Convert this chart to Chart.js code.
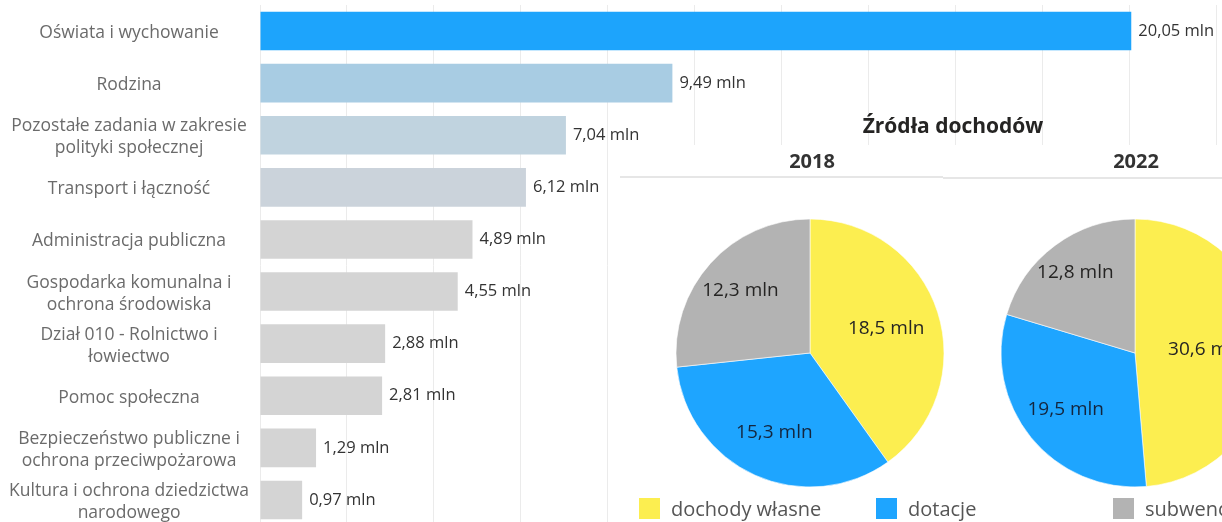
<!DOCTYPE html>
<html><head><meta charset="utf-8">
<script src="https://cdn.jsdelivr.net/npm/chart.js@4.4.1/dist/chart.umd.min.js"></script>
<style>
html,body{margin:0;padding:0;background:#fff;overflow:hidden;}
#wrap{position:relative;width:1222px;height:522px;overflow:hidden;font-family:"Open Sans",sans-serif;}
#barBox{position:absolute;left:0;top:0;width:1222px;height:540px;}
#title{position:absolute;left:753px;width:400px;top:111px;text-align:center;font-weight:700;font-size:21px;line-height:28px;color:#252423;}
#panel{position:absolute;left:617px;top:145px;width:640px;height:400px;background:#fff;}
.yr{position:absolute;top:2px;width:200px;text-align:center;font-weight:700;font-size:20px;line-height:28px;color:#333;}
.ln{position:absolute;height:2px;background:#e6e6e6;}
.pie{position:absolute;top:58px;width:300px;height:300px;}
#legend{position:absolute;left:22px;top:353px;display:flex;white-space:nowrap;}
.li{display:flex;align-items:center;width:237px;font-size:20px;line-height:21px;color:#555;}
.sq{width:21px;height:21px;margin-right:11px;flex:none;}
</style></head>
<body>
<div id="wrap">
  <div id="barBox"><canvas id="bar"></canvas></div>
  <div id="title"></div>
  <div id="panel">
    <div class="yr" id="y0" style="left:95px"></div>
    <div class="ln" style="left:3px;top:31px;width:323px"></div>
    <div class="yr" id="y1" style="left:419px"></div>
    <div class="ln" style="left:326px;top:32px;width:320px"></div>
    <div class="pie" style="left:43px"><canvas id="pie0"></canvas></div>
    <div class="pie" style="left:368px"><canvas id="pie1"></canvas></div>
    <div id="legend"></div>
  </div>
</div>
<script>
// ---- data ----
const categories = [
  "Oświata i wychowanie",
  "Rodzina",
  ["Pozostałe zadania w zakresie", "polityki społecznej"],
  "Transport i łączność",
  "Administracja publiczna",
  ["Gospodarka komunalna i", "ochrona środowiska"],
  ["Dział 010 - Rolnictwo i", "łowiectwo"],
  "Pomoc społeczna",
  ["Bezpieczeństwo publiczne i", "ochrona przeciwpożarowa"],
  ["Kultura i ochrona dziedzictwa", "narodowego"]
];
const expenses = [20.05, 9.49, 7.04, 6.12, 4.89, 4.55, 2.88, 2.81, 1.29, 0.97];
const barColors = ["#1DA4FC", "#A8CCE3", "#C0D3DF", "#CBD3DB", "#D4D4D4", "#D4D4D4", "#D4D4D4", "#D4D4D4", "#D4D4D4", "#D4D4D4"];
const pieTitle = "Źródła dochodów";
const years = ["2018", "2022"];
const sourceLabels = ["dochody własne", "dotacje", "subwencje"];
const income2018 = [18.5, 15.3, 12.3];
const income2022 = [30.6, 19.5, 12.8];
const sourceColors = ["#FCEE50", "#1EA5FF", "#B3B3B3"];
const unit = "mln";

// ---- text bits ----
document.getElementById('title').textContent = pieTitle;
document.getElementById('y0').textContent = years[0];
document.getElementById('y1').textContent = years[1];
const lg = document.getElementById('legend');
sourceLabels.forEach((l, i) => {
  const d = document.createElement('div'); d.className = 'li';
  const s = document.createElement('span'); s.className = 'sq'; s.style.background = sourceColors[i];
  const t = document.createElement('span'); t.textContent = l;
  d.appendChild(s); d.appendChild(t); lg.appendChild(d);
});

const FONT = '"Open Sans", sans-serif';
Chart.defaults.font.family = FONT;
Chart.defaults.animation = false;

const fmt = (v, d) => v.toFixed(d).replace('.', ',') + ' ' + unit;

const barLabels = {
  id: 'barLabels',
  afterDatasetsDraw(chart) {
    const ctx = chart.ctx;
    const meta = chart.getDatasetMeta(0);
    ctx.save();
    ctx.font = '16.5px ' + FONT;
    ctx.fillStyle = '#333333';
    ctx.textAlign = 'left';
    ctx.textBaseline = 'middle';
    meta.data.forEach((el, i) => {
      ctx.fillText(fmt(chart.data.datasets[0].data[i], 2), el.x + 7, el.y);
    });
    ctx.restore();
  }
};

new Chart(document.getElementById('bar'), {
  type: 'bar',
  data: { labels: categories, datasets: [{ data: expenses, backgroundColor: barColors, barPercentage: 0.74, categoryPercentage: 1 }] },
  options: {
    indexAxis: 'y',
    responsive: true, maintainAspectRatio: false,
    layout: { padding: { top: 5, bottom: 14, right: 6, left: 0 } },
    plugins: { legend: { display: false }, tooltip: { enabled: false } },
    scales: {
      x: { min: 0, max: 22, ticks: { display: false, stepSize: 2 }, grid: { color: '#ebebeb', drawTicks: false }, border: { display: false } },
      y: {
        grid: { display: false }, border: { display: false },
        ticks: { font: { size: 17.5, lineHeight: 1.26 }, color: '#6b6b6b', crossAlign: 'center', padding: 3, labelOffset: 2 },
        afterFit(s) { s.width = 260; s.paddingTop = 0; s.paddingBottom = 0; }
      }
    }
  },
  plugins: [barLabels]
});

const pieLabels = {
  id: 'pieLabels',
  afterDatasetsDraw(chart) {
    const ctx = chart.ctx;
    const meta = chart.getDatasetMeta(0);
    ctx.save();
    ctx.font = '19px ' + FONT;
    ctx.textAlign = 'center';
    ctx.textBaseline = 'middle';
    meta.data.forEach((arc, i) => {
      const span = (arc.endAngle - arc.startAngle) * 180 / Math.PI;
      const mid = (arc.startAngle + arc.endAngle) / 2;
      const r = arc.outerRadius * (0.9 - 0.0021 * span);
      ctx.fillStyle = i === 1 ? '#14253d' : '#252423';
      ctx.fillText(fmt(chart.data.datasets[0].data[i], 1), arc.x + Math.cos(mid) * r, arc.y + Math.sin(mid) * r);
    });
    ctx.restore();
  }
};

function makePie(id, values) {
  new Chart(document.getElementById(id), {
    type: 'pie',
    data: { labels: sourceLabels, datasets: [{ data: values, backgroundColor: sourceColors, borderColor: 'rgba(255,255,255,0.6)', borderWidth: 1, radius: 134 }] },
    options: {
      responsive: true, maintainAspectRatio: false,
      layout: { padding: 0 },
      plugins: { legend: { display: false }, tooltip: { enabled: false } }
    },
    plugins: [pieLabels]
  });
}
makePie('pie0', income2018);
makePie('pie1', income2022);
</script>
</body></html>
